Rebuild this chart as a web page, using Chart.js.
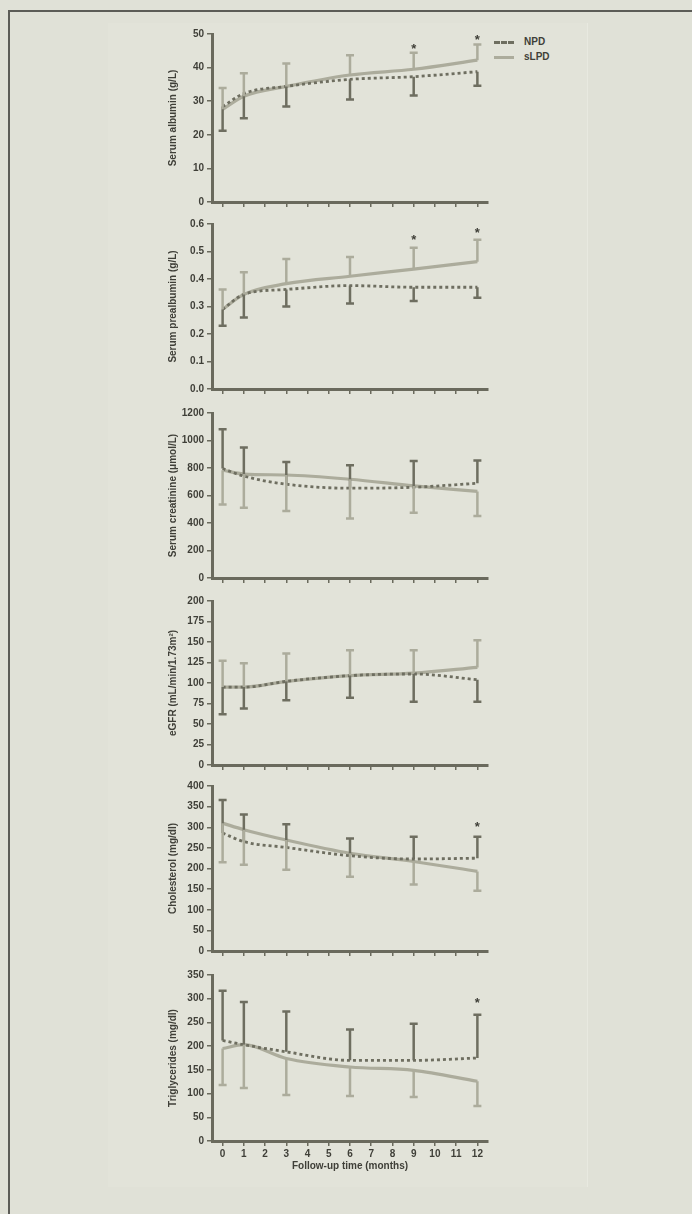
<!DOCTYPE html>
<html>
<head>
<meta charset="utf-8">
<script src="https://cdn.jsdelivr.net/npm/chart.js@4.4.0/dist/chart.umd.min.js"></script>
<style>
  body { margin: 0; width: 692px; height: 1214px; overflow: hidden; position: relative;
         background: #e0e1d7; font-family: "Liberation Sans", Arial, sans-serif; }
  #frame { position: absolute; left: 8px; top: 10px; width: 700px; height: 1230px;
           border-left: 2px solid #5c5c57; border-top: 2px solid #5c5c57; }
  #sheet { position: absolute; left: 108px; top: 23px; width: 479px; height: 1164px;
           background: #e2e3d9; border-right: 1px solid #e8e9e0; }
  canvas { position: absolute; }
  .leg { position: absolute; left: 494px; font: bold 10px "Liberation Sans", Arial, sans-serif; color: #3f3f38; }
  .leg i { display: inline-block; width: 20px; margin-right: 10px; vertical-align: middle; }
</style>
</head>
<body>
<div id="frame"></div>
<div id="sheet"></div>
<div class="leg" style="top:36px"><i style="border-top:3px dashed #6e6e60"></i>NPD</div>
<div class="leg" style="top:51px"><i style="border-top:3px solid #acac9c"></i>sLPD</div>

<canvas id="c1"></canvas>
<canvas id="c2"></canvas>
<canvas id="c3"></canvas>
<canvas id="c4"></canvas>
<canvas id="c5"></canvas>
<canvas id="c6"></canvas>

<script>
// Mois de suivi
const months = [0, 1, 3, 6, 9, 12];
const xTicks = [0, 1, 2, 3, 4, 5, 6, 7, 8, 9, 10, 11, 12];

// Albumine sérique (g/L)
const albuminNPD = [28.4, 32.3, 34.4, 36.5, 37.3, 38.8];
const albuminSLPD = [27.6, 31.5, 34.4, 37.8, 39.5, 42.2];
const albuminNPDErr = [21.2, 24.9, 28.4, 30.5, 31.7, 34.6];
const albuminSLPDErr = [33.9, 38.3, 41.2, 43.7, 44.4, 46.9];
const albuminStars = [[9, 46.4], [12, 49.0]];

// Préalbumine sérique (g/L)
const prealbuminNPD = [0.29, 0.344, 0.362, 0.376, 0.37, 0.37];
const prealbuminSLPD = [0.29, 0.344, 0.383, 0.41, 0.436, 0.463];
const prealbuminNPDErr = [0.23, 0.26, 0.30, 0.311, 0.32, 0.332];
const prealbuminSLPDErr = [0.362, 0.425, 0.473, 0.48, 0.514, 0.543];
const prealbuminStars = [[9, 0.552], [12, 0.576]];

// Créatinine sérique (µmol/L)
const creatinineNPD = [796, 741, 682, 653, 660, 689];
const creatinineSLPD = [784, 756, 749, 718, 670, 630];
const creatinineNPDErr = [1081, 950, 844, 820, 851, 855];
const creatinineSLPDErr = [535, 511, 487, 432, 475, 451];

// DFGe
const egfrNPD = [95, 95, 102, 109, 111, 104];
const egfrSLPD = [95, 95, 102, 109, 112, 119];
const egfrNPDErr = [62, 69, 79, 82, 77, 77];
const egfrSLPDErr = [127, 124, 136, 140, 140, 152];

// Cholestérol (mg/dl)
const cholNPD = [286, 265, 251, 231, 223, 225];
const cholSLPD = [310, 294, 269, 237, 217, 193];
const cholNPDErr = [366, 331, 307, 273, 277, 277];
const cholSLPDErr = [215, 209, 197, 180, 161, 146];
const cholStars = [[12, 306]];

// Triglycérides (mg/dl)
const tgNPD = [212, 203, 188, 170, 170, 175];
const tgSLPD = [195, 203, 174, 156, 149, 126];
const tgNPDErr = [317, 293, 273, 235, 247, 266];
const tgSLPDErr = [118, 112, 97, 95, 93, 74];
const tgStars = [[12, 297]];

const NPD_COLOR = '#6e6e60';
const SLPD_COLOR = '#acac9c';
const AXIS_COLOR = '#6a6a5d';
const TEXT_COLOR = '#3f3f38';
const FONT = '"Liberation Sans", Arial, sans-serif';

const panels = [
    { id: 'c1', title: 'Serum albumin (g/L)', top: 33, bottom: 204, max: 50, step: 10, dec: 0,
      npd: albuminNPD, slpd: albuminSLPD, npdErr: albuminNPDErr, slpdErr: albuminSLPDErr, stars: albuminStars },
    { id: 'c2', title: 'Serum prealbumin (g/L)', top: 223, bottom: 391, max: 0.6, step: 0.1, dec: 1,
      npd: prealbuminNPD, slpd: prealbuminSLPD, npdErr: prealbuminNPDErr, slpdErr: prealbuminSLPDErr, stars: prealbuminStars },
    { id: 'c3', title: 'Serum creatinine (μmol/L)', top: 412, bottom: 580, max: 1200, step: 200, dec: 0,
      npd: creatinineNPD, slpd: creatinineSLPD, npdErr: creatinineNPDErr, slpdErr: creatinineSLPDErr, stars: [] },
    { id: 'c4', title: 'eGFR (mL/min/1.73m²)', top: 600, bottom: 767, max: 200, step: 25, dec: 0,
      npd: egfrNPD, slpd: egfrSLPD, npdErr: egfrNPDErr, slpdErr: egfrSLPDErr, stars: [] },
    { id: 'c5', title: 'Cholesterol (mg/dl)', top: 785, bottom: 953, max: 400, step: 50, dec: 0,
      npd: cholNPD, slpd: cholSLPD, npdErr: cholNPDErr, slpdErr: cholSLPDErr, stars: cholStars },
    { id: 'c6', title: 'Triglycerides (mg/dl)', top: 974, bottom: 1141, max: 350, step: 50, dec: 0,
      npd: tgNPD, slpd: tgSLPD, npdErr: tgNPDErr, slpdErr: tgSLPDErr, stars: tgStars, last: true }
];

// Barres d'erreur unilatérales + astérisques
const errorBars = {
    id: 'errorBars',
    afterDatasetsDraw(chart, args, opts) {
        const { ctx, scales: { x, y } } = chart;
        chart.data.datasets.forEach(ds => {
            if (!ds.errEnd) return;
            ctx.save();
            ctx.strokeStyle = ds.borderColor;
            ctx.lineWidth = 2.5;
            ds.data.forEach((p, j) => {
                const px = x.getPixelForValue(p.x);
                const py = y.getPixelForValue(p.y);
                const pe = y.getPixelForValue(ds.errEnd[j]);
                ctx.beginPath();
                ctx.moveTo(px, py);
                ctx.lineTo(px, pe);
                ctx.moveTo(px - 4, pe);
                ctx.lineTo(px + 4, pe);
                ctx.stroke();
            });
            ctx.restore();
        });
        ctx.save();
        ctx.fillStyle = TEXT_COLOR;
        ctx.font = 'bold 13px ' + FONT;
        ctx.textAlign = 'center';
        ctx.textBaseline = 'middle';
        (opts.stars || []).forEach(([m, v]) => {
            ctx.fillText('*', x.getPixelForValue(m), y.getPixelForValue(v) + 3);
        });
        ctx.restore();
    }
};

const CANVAS_LEFT = 165;
const Y_WIDTH = 47;
const PAD_TOP = 8;

panels.forEach(p => {
    const xHeight = p.last ? 34 : 7;
    const canvas = document.getElementById(p.id);
    const h = PAD_TOP + (p.bottom - p.top) + xHeight;
    canvas.style.left = CANVAS_LEFT + 'px';
    canvas.style.top = (p.top - PAD_TOP) + 'px';
    canvas.style.width = '327px';
    canvas.style.height = h + 'px';
    canvas.width = 327;
    canvas.height = h;

    new Chart(canvas.getContext('2d'), {
        type: 'line',
        data: {
            datasets: [{
                label: 'NPD',
                data: months.map((m, i) => ({ x: m, y: p.npd[i] })),
                errEnd: p.npdErr,
                borderColor: NPD_COLOR,
                borderWidth: 2.8,
                borderDash: [3, 3],
                pointRadius: 0,
                cubicInterpolationMode: 'monotone',
                fill: false
            }, {
                label: 'sLPD',
                data: months.map((m, i) => ({ x: m, y: p.slpd[i] })),
                errEnd: p.slpdErr,
                borderColor: SLPD_COLOR,
                borderWidth: 3.2,
                pointRadius: 0,
                cubicInterpolationMode: 'monotone',
                fill: false
            }]
        },
        options: {
            responsive: false,
            animation: false,
            layout: { autoPadding: false, padding: { top: PAD_TOP, right: 4, left: 0, bottom: 0 } },
            plugins: {
                legend: { display: false },
                tooltip: { enabled: false },
                errorBars: { stars: p.stars }
            },
            scales: {
                x: {
                    type: 'linear',
                    min: -0.5,
                    max: 12.5,
                    afterBuildTicks: s => { s.ticks = xTicks.map(v => ({ value: v })); },
                    afterFit: s => { s.height = xHeight; },
                    border: { display: true, width: 3, color: AXIS_COLOR },
                    grid: { drawOnChartArea: false, drawTicks: true, tickLength: 5, color: AXIS_COLOR, lineWidth: 1.5 },
                    ticks: {
                        display: !!p.last,
                        padding: 2,
                        color: TEXT_COLOR,
                        font: { family: FONT, size: 10, weight: 'bold' },
                        maxRotation: 0,
                        autoSkip: false
                    },
                    title: {
                        display: !!p.last,
                        text: 'Follow-up time (months)',
                        color: TEXT_COLOR,
                        font: { family: FONT, size: 10, weight: 'bold' },
                        padding: { top: 2, bottom: 3 }
                    }
                },
                y: {
                    min: 0,
                    max: p.max,
                    afterFit: s => { s.width = Y_WIDTH; },
                    border: { display: true, width: 3, color: AXIS_COLOR },
                    grid: { drawOnChartArea: false, drawTicks: true, tickLength: 5, color: AXIS_COLOR, lineWidth: 1.5 },
                    ticks: {
                        stepSize: p.step,
                        padding: 3,
                        color: TEXT_COLOR,
                        font: { family: FONT, size: 10, weight: 'bold' },
                        callback: v => Number(v).toFixed(p.dec)
                    },
                    title: {
                        display: true,
                        text: p.title,
                        color: TEXT_COLOR,
                        font: { family: FONT, size: 10, weight: 'bold' },
                        padding: { top: 2, bottom: 0 }
                    }
                }
            }
        },
        plugins: [errorBars]
    });
});
</script>
</body>
</html>
